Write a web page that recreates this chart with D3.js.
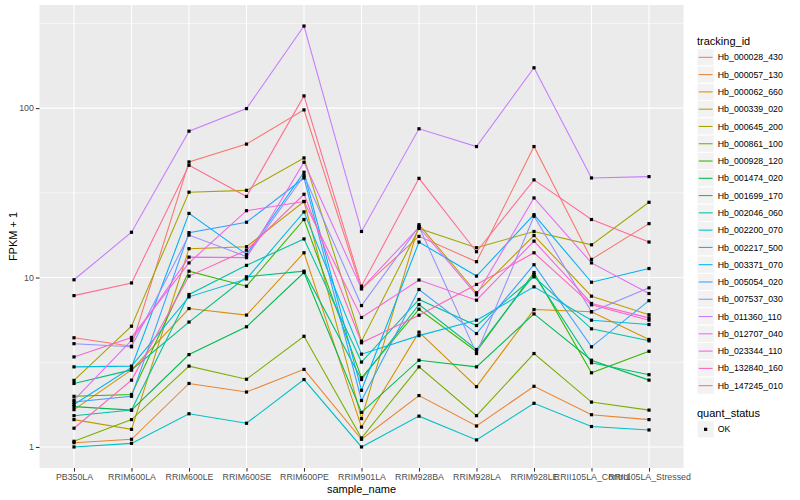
<!DOCTYPE html>
<html><head><meta charset="utf-8">
<script src="https://cdn.jsdelivr.net/npm/d3@7"></script>
<style>
body{margin:0;background:#fff}
svg{display:block}
text{font-family:"Liberation Sans",Arial,Helvetica,sans-serif}
</style>
</head><body><svg id="c" width="800" height="500"></svg>
<script>
// ---- data ----
const sampleNames = ["PB350LA","RRIM600LA","RRIM600LE","RRIM600SE","RRIM600PE","RRIM901LA","RRIM928BA","RRIM928LA","RRIM928LE","RRII105LA_Control","RRII105LA_Stressed"];
const trackingIds = ["Hb_000028_430","Hb_000057_130","Hb_000062_660","Hb_000339_020","Hb_000645_200","Hb_000861_100","Hb_000928_120","Hb_001474_020","Hb_001699_170","Hb_002046_060","Hb_002200_070","Hb_002217_500","Hb_003371_070","Hb_005054_020","Hb_007537_030","Hb_011360_110","Hb_012707_040","Hb_023344_110","Hb_132840_160","Hb_147245_010"];
const hb_000028_430 = [4.41, 3.93, 48.1, 61.3, 97.6, 8.58, 17.5, 12.4, 59.3, 12.8, 20.8];
const hb_000057_130 = [1.06, 1.11, 2.37, 2.11, 2.87, 1.11, 2.01, 1.33, 2.28, 1.55, 1.45];
const hb_000062_660 = [1.66, 2.85, 6.56, 6.0, 14.0, 1.31, 4.76, 2.27, 6.47, 6.28, 4.31];
const hb_000339_020 = [1.45, 1.27, 14.8, 15.2, 28.1, 1.47, 20.5, 8.13, 17.7, 7.76, 6.03];
const hb_000645_200 = [2.47, 5.16, 31.9, 32.7, 50.8, 4.21, 19.5, 15.0, 18.7, 15.6, 27.8];
const hb_000861_100 = [1.08, 1.45, 3.0, 2.51, 4.5, 1.13, 2.97, 1.53, 3.56, 1.84, 1.65];
const hb_000928_120 = [1.99, 2.04, 10.9, 8.89, 22.0, 2.56, 6.5, 3.66, 10.7, 2.74, 3.67];
const hb_001474_020 = [1.73, 1.65, 3.51, 5.12, 10.7, 1.6, 3.25, 2.97, 6.1, 3.25, 2.48];
const hb_001699_170 = [2.37, 2.85, 5.46, 10.1, 10.9, 2.5, 6.93, 3.76, 10.4, 3.14, 2.67];
const hb_002046_060 = [1.53, 1.65, 7.94, 11.8, 16.9, 3.17, 7.42, 5.21, 10.1, 4.98, 4.23];
const hb_002200_070 = [1.0, 1.05, 1.57, 1.38, 2.5, 1.0, 1.52, 1.10, 1.81, 1.32, 1.26];
const hb_002217_500 = [2.97, 3.0, 7.69, 9.81, 24.4, 3.53, 4.54, 5.6, 8.81, 5.6, 5.28];
const hb_003371_070 = [1.78, 2.95, 23.9, 13.7, 41.8, 2.16, 16.2, 10.2, 23.5, 9.38, 11.3];
const hb_005054_020 = [1.84, 1.99, 18.4, 21.2, 38.7, 1.88, 8.5, 4.67, 11.9, 3.9, 7.3];
const hb_007537_030 = [4.07, 3.9, 17.8, 13.3, 40.0, 6.83, 20.0, 3.56, 23.0, 6.28, 8.69];
const hb_011360_110 = [9.7, 18.5, 73.1, 99.3, 305, 18.7, 75.5, 59.3, 173, 38.7, 39.4];
const hb_012707_040 = [1.89, 4.25, 13.2, 13.1, 47.9, 8.6, 19.8, 7.9, 29.5, 12.2, 8.05];
const hb_023344_110 = [3.40, 4.43, 12.2, 24.8, 28.1, 5.81, 9.67, 7.35, 16.4, 7.03, 5.78];
const hb_132840_160 = [1.29, 2.48, 10.2, 14.5, 31.0, 4.12, 5.99, 9.1, 14.0, 6.9, 5.6];
const hb_147245_010 = [7.82, 9.29, 46.0, 30.1, 118, 8.89, 38.5, 14.2, 37.7, 22.0, 16.2];
const seriesValues = [hb_000028_430, hb_000057_130, hb_000062_660, hb_000339_020, hb_000645_200, hb_000861_100, hb_000928_120, hb_001474_020, hb_001699_170, hb_002046_060, hb_002200_070, hb_002217_500, hb_003371_070, hb_005054_020, hb_007537_030, hb_011360_110, hb_012707_040, hb_023344_110, hb_132840_160, hb_147245_010];
const seriesColors = ["#F8766D","#EA8331","#D89000","#C09B00","#A3A500","#7CAE00","#39B600","#00BB4E","#00BF7D","#00C1A3","#00BFC4","#00BAE0","#00B0F6","#35A2FF","#9590FF","#C77CFF","#E76BF3","#FA62DB","#FF62BC","#FF6C91"];
const yTickValues = [1, 10, 100];
const yMinorValues = [Math.sqrt(10), Math.sqrt(1000), Math.sqrt(100000)];
const quantStatus = ["OK"];

// ---- layout ----
const svg = d3.select("#c");
const panel = {left: 39.5, right: 683.5, top: 5, bottom: 468};
const all = seriesValues.flat();
const lmin = Math.log10(d3.min(all)), lmax = Math.log10(d3.max(all));
const ex = (lmax - lmin) * 0.05;
const y = d3.scaleLog().domain([Math.pow(10, lmin - ex), Math.pow(10, lmax + ex)]).range([panel.bottom, panel.top]);
const x = d3.scalePoint().domain(sampleNames).range([panel.left, panel.right]).padding(0.6);

svg.append("rect").attr("x", panel.left).attr("y", panel.top)
  .attr("width", panel.right - panel.left).attr("height", panel.bottom - panel.top).attr("fill", "#EBEBEB");

const grid = svg.append("g");
grid.selectAll(".ymin").data(yMinorValues).join("line")
  .attr("x1", panel.left).attr("x2", panel.right)
  .attr("y1", d => y(d)).attr("y2", d => y(d))
  .attr("stroke", "#fff").attr("stroke-width", 0.55);
grid.selectAll(".ymaj").data(yTickValues).join("line")
  .attr("x1", panel.left).attr("x2", panel.right)
  .attr("y1", d => y(d)).attr("y2", d => y(d))
  .attr("stroke", "#fff").attr("stroke-width", 1.07);
grid.selectAll(".xmaj").data(sampleNames).join("line")
  .attr("x1", d => x(d)).attr("x2", d => x(d))
  .attr("y1", panel.top).attr("y2", panel.bottom)
  .attr("stroke", "#fff").attr("stroke-width", 1.07);

// lines
const line = d3.line().x((d, i) => x(sampleNames[i])).y(d => y(d));
svg.append("g").selectAll("path").data(seriesValues).join("path")
  .attr("d", d => line(d)).attr("fill", "none")
  .attr("stroke", (d, i) => seriesColors[i]).attr("stroke-width", 1.07);

// points
const pts = [];
seriesValues.forEach(s => s.forEach((v, i) => pts.push({s: sampleNames[i], v})));
svg.append("g").selectAll("rect").data(pts).join("rect")
  .attr("x", d => x(d.s) - 1.6).attr("y", d => y(d.v) - 1.6)
  .attr("width", 3.2).attr("height", 3.2).attr("fill", "#000");

// axes
const yAxis = d3.axisLeft(y).tickValues(yTickValues).tickFormat(d3.format("d")).tickSize(3.6).tickPadding(2);
const gy = svg.append("g").attr("transform", `translate(${panel.left},0)`).call(yAxis);
const xAxis = d3.axisBottom(x).tickSize(3.6).tickPadding(2);
const gx = svg.append("g").attr("transform", `translate(0,${panel.bottom})`).call(xAxis);
[gy, gx].forEach(g => {
  g.select(".domain").remove();
  g.selectAll(".tick line").attr("stroke", "#333333").attr("stroke-width", 1.07);
  g.selectAll(".tick text").attr("fill", "#4D4D4D").style("font-size", "8.8px")
    .style("font-family", '"Liberation Sans",Arial,sans-serif');
});

svg.append("text").attr("x", (panel.left + panel.right) / 2).attr("y", 493)
  .attr("text-anchor", "middle").style("font-size", "11px").attr("fill", "#000").text("sample_name");
svg.append("text").attr("transform", `translate(17,${(panel.top + panel.bottom) / 2}) rotate(-90)`)
  .attr("text-anchor", "middle").style("font-size", "11px").attr("fill", "#000").text("FPKM + 1");

// legend
const lg = svg.append("g");
const keyH = 17.28, lx = 697, ly0 = 48.7;
lg.append("text").attr("x", lx).attr("y", 44.5).style("font-size", "11px").text("tracking_id");
trackingIds.forEach((id, i) => {
  const yy = ly0 + i * keyH;
  lg.append("rect").attr("x", lx).attr("y", yy).attr("width", keyH).attr("height", keyH)
    .attr("fill", "#F2F2F2").attr("stroke", "#fff").attr("stroke-width", 1);
  lg.append("line").attr("x1", lx + 1.7).attr("x2", lx + keyH - 1.7)
    .attr("y1", yy + keyH / 2).attr("y2", yy + keyH / 2)
    .attr("stroke", seriesColors[i]).attr("stroke-width", 1.07);
  lg.append("text").attr("x", lx + keyH + 3.5).attr("y", yy + keyH / 2 + 3.1)
    .style("font-size", "8.8px").text(id);
});
lg.append("text").attr("x", lx).attr("y", 416.5).style("font-size", "11px").text("quant_status");
quantStatus.forEach((q, i) => {
  const yy = 420.7 + i * keyH;
  lg.append("rect").attr("x", lx).attr("y", yy).attr("width", keyH).attr("height", keyH)
    .attr("fill", "#F2F2F2").attr("stroke", "#fff").attr("stroke-width", 1);
  lg.append("rect").attr("x", lx + keyH / 2 - 1.6).attr("y", yy + keyH / 2 - 1.6)
    .attr("width", 3.2).attr("height", 3.2).attr("fill", "#000");
  lg.append("text").attr("x", lx + keyH + 3.5).attr("y", yy + keyH / 2 + 3.1)
    .style("font-size", "8.8px").text(q);
});
</script>
</body></html>
